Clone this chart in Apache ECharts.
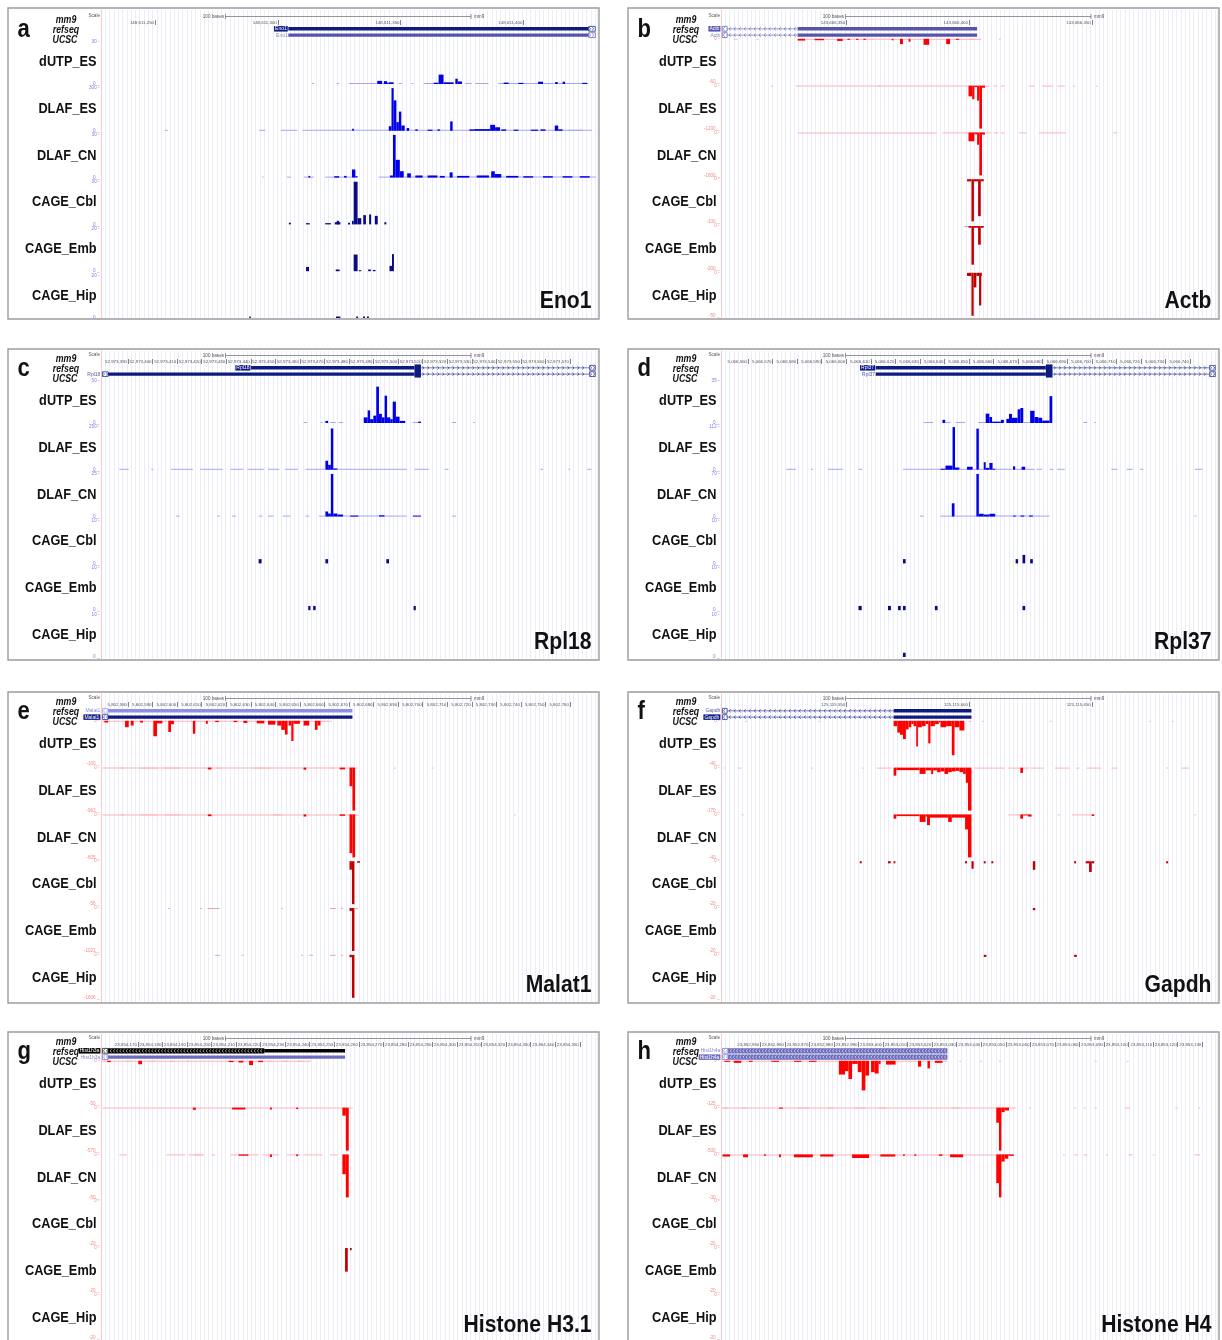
<!DOCTYPE html>
<html>
<head>
<meta charset="utf-8">
<title>Strand-specific read coverage at eight mouse loci</title>
<script src="https://cdn.jsdelivr.net/npm/echarts@6.0.0/dist/echarts.min.js"></script>
<style>
  html, body { margin: 0; padding: 0; background: #fff; }
  #chart { width: 1222px; height: 1340px; }
</style>
</head>
<body>
<div id="chart"></div>
<script>
// ---------------------------------------------------------------------------
// Shared labels
// ---------------------------------------------------------------------------
const trackNames = ['dUTP_ES', 'DLAF_ES', 'DLAF_CN', 'CAGE_Cbl', 'CAGE_Emb', 'CAGE_Hip'];
const panelLetters = ['a', 'b', 'c', 'd', 'e', 'f', 'g', 'h'];
const geneTitles = ['Eno1', 'Actb', 'Rpl18', 'Rpl37', 'Malat1', 'Gapdh', 'Histone H3.1', 'Histone H4'];
const strands = ['+', '-', '+', '+', '-', '-', '-', '-'];
const chromNames = ['chr4:', 'chr5:', 'chr7:', 'chr15:', 'chr19:', 'chr6:', 'chr13:', 'chr13:'];
// genomic position of the first base shown in each window
const windowStarts = [148611228, 143666299, 52973379, 5066549, 5802569, 125115499, 23854155, 23852934];
const windowBases = 202;
const scaleSpan = [50.7, 150.7];          // 100-base scale bar (window offsets)
const scaleText = '100 bases';
const assembly = 'mm9';

// chromosome coordinate ticks
const eno1Ticks = [148611250, 148611300, 148611350, 148611400];
const actbTicks = [143666350, 143666400, 143666450];
const rpl18Ticks = [52973390, 52973400, 52973410, 52973420, 52973430, 52973440, 52973450, 52973460, 52973470, 52973480,
  52973490, 52973500, 52973510, 52973520, 52973530, 52973540, 52973550, 52973560, 52973570];
const rpl37Ticks = [5066560, 5066570, 5066580, 5066590, 5066600, 5066610, 5066620, 5066630, 5066640, 5066650,
  5066660, 5066670, 5066680, 5066690, 5066700, 5066710, 5066720, 5066730, 5066740];
const malat1Ticks = [5802580, 5802590, 5802600, 5802610, 5802620, 5802630, 5802640, 5802650, 5802660, 5802670,
  5802680, 5802690, 5802700, 5802710, 5802720, 5802730, 5802740, 5802750, 5802760];
const gapdhTicks = [125115550, 125115600, 125115650];
const h31Ticks = [23854170, 23854180, 23854190, 23854200, 23854210, 23854220, 23854230, 23854240, 23854250, 23854260,
  23854270, 23854280, 23854290, 23854300, 23854310, 23854320, 23854330, 23854340, 23854350];
const h4Ticks = [23852950, 23852960, 23852970, 23852980, 23852990, 23853000, 23853010, 23853020, 23853030, 23853040,
  23853050, 23853060, 23853070, 23853080, 23853090, 23853100, 23853110, 23853120, 23853130];

// track view limits (absolute value of the scale)
const eno1Max = [30, 300, 30, 30, 20, 20];
const actbMax = [60, 1200, 1600, 100, 200, 50];
const rpl18Max = [50, 250, 25, 10, 10, 10];
const rpl37Max = [35, 112, 70, 10, 10, 10];
const malat1Max = [100, 963, 605, 56, 1021, 1606];
const gapdhMax = [40, 170, 40, 20, 20, 20];
const h31Max = [50, 570, 50, 20, 20, 20];
const h4Max = [125, 500, 30, 20, 20, 20];

// gene models: [start, end, part]  (window offsets in bases)
const eno1Refseq = [[76.3, 198.6, 'exon'], [198.6, 201.3, 'edge']];
const eno1Ucsc = [[76.3, 198.6, 'exon'], [198.6, 201.3, 'edge']];
const actbRefseq = [[0.5, 2.5, 'edge'], [2.5, 31.2, 'intron'], [31.2, 104.3, 'exon']];
const actbUcsc = [[0.5, 2.5, 'edge'], [2.5, 31.2, 'intron'], [31.2, 104.3, 'exon']];
const rpl18Refseq = [[61.1, 127.7, 'exon'], [127.7, 130.3, 'cds'], [130.3, 199.0, 'intron'], [199.0, 201.3, 'edge']];
const rpl18Ucsc = [[0.6, 2.9, 'edge'], [2.9, 127.7, 'exon'], [127.7, 130.3, 'cds'], [130.3, 199.0, 'intron'], [199.0, 201.3, 'edge']];
const rpl37Refseq = [[63.0, 132.3, 'exon'], [132.3, 135.0, 'cds'], [135.0, 199.0, 'intron'], [199.0, 201.3, 'edge']];
const rpl37Ucsc = [[63.0, 132.3, 'exon'], [132.3, 135.0, 'cds'], [135.0, 199.0, 'intron'], [199.0, 201.3, 'edge']];
const malat1Refseq = [[0.6, 2.9, 'edge'], [2.9, 102.4, 'exon']];
const malat1Ucsc = [[0.6, 2.9, 'edge'], [2.9, 102.4, 'exon']];
const gapdhRefseq = [[0.6, 2.5, 'edge'], [2.5, 70.3, 'intron'], [70.3, 102.0, 'exon']];
const gapdhUcsc = [[0.6, 2.5, 'edge'], [2.5, 70.3, 'intron'], [70.3, 102.0, 'exon']];
const h31Refseq = [[0.6, 2.9, 'edge'], [2.9, 66.5, 'chev'], [66.5, 99.4, 'exon']];
const h31Ucsc = [[0.6, 2.9, 'edge'], [2.9, 99.4, 'exon']];
const h4Refseq = [[0.6, 2.9, 'edge'], [2.9, 92.2, 'chev']];
const h4Ucsc = [[0.6, 2.9, 'edge'], [2.9, 92.2, 'chev']];

// gene-row names and the window offset where each name ends
const eno1GeneNames = ['Eno1', 'Eno1'];      const eno1NameAt = [76.3, 76.3];
const actbGeneNames = ['Actb', 'Actb'];      const actbNameAt = [0, 0];
const rpl18GeneNames = ['Rpl18', 'Rpl18'];   const rpl18NameAt = [61.1, 0];
const rpl37GeneNames = ['Rpl37', 'Rpl37'];   const rpl37NameAt = [63.0, 63.0];
const malat1GeneNames = ['Malat1', 'Malat1']; const malat1NameAt = [0, 0];
const gapdhGeneNames = ['Gapdh', 'Gapdh'];   const gapdhNameAt = [0, 0];
const h31GeneNames = ['Hist1h3a', 'Hist1h3a']; const h31NameAt = [0, 0];
const h4GeneNames = ['Hist1h4a', 'Hist1h4a']; const h4NameAt = [0, 0];

// ---------------------------------------------------------------------------
// Coverage runs: [start, end, value]   (window offsets in bases, track units)
// ---------------------------------------------------------------------------
// a  Eno1
const eno1_dUTP_ES = [[86.0,86.8,0.3],[96.0,97.0,0.3],[101.0,112.5,0.3],[112.5,114.5,2.2],[114.5,115.2,0.3],[115.2,116.5,2.0],
  [116.5,117.2,0.8],[117.2,119.2,1.2],[121.3,122.6,0.3],[126.5,127.2,0.3],[131.4,137.5,0.3],[135.5,137.5,0.9],[137.5,139.5,6.6],
  [139.5,143.6,1.2],[144.3,145.3,3.7],[145.3,147.0,1.8],[148.3,151.0,0.3],[152.4,157.8,0.3],[161.8,198.3,0.3],[164.0,166.0,1.0],
  [170.0,172.0,0.8],[178.0,180.0,1.6],[185.0,186.0,1.4],[188.0,189.0,1.6],[196.0,198.0,0.8]];
const eno1_DLAF_ES = [[26.0,27.2,3],[64.4,67.0,3],[73.2,80.0,3],[82.0,86.0,3],[86.0,117.2,3],[102.3,103.0,15],[117.2,118.3,32],
  [118.3,119.2,300],[119.2,120.3,214],[120.3,121.3,61],[121.3,122.3,135],[122.3,123.7,37],[123.7,200.0,3],[124.5,125.5,20],
  [128.0,129.0,10],[133.0,135.0,8],[137.0,138.0,10],[142.2,143.2,66],[150.0,152.0,10],[152.0,158.5,12],[158.5,160.5,42],
  [160.5,162.5,25],[163.0,165.0,10],[168.0,170.0,8],[175.0,178.0,8],[179.0,181.0,10],[184.8,186.2,37],[186.2,188.0,10],[190.0,196.0,5]];
const eno1_DLAF_CN = [[65.6,66.2,0.3],[75.7,77.3,0.3],[82.7,86.6,0.3],[84.5,85.2,1.2],[91.3,102.2,0.3],[95.0,97.0,1.0],[99.0,100.0,1.2],
  [102.2,103.6,5.7],[103.6,104.5,1.0],[113.0,117.7,0.3],[117.7,118.9,1.5],[118.9,120.0,30],[120.0,121.7,12.5],[121.7,123.3,4.5],
  [123.3,201.6,0.3],[124.7,126.2,3.0],[128.0,131.0,1.5],[133.0,137.0,1.5],[138.0,140.0,1.2],[142.0,143.2,3.7],[145.0,150.0,1.2],
  [153.0,158.0,1.5],[158.9,160.4,4.4],[160.4,163.0,2.5],[165.0,170.0,1.2],[172.0,176.0,1.0],[180.0,184.0,1.0],[188.0,192.0,1.0],[195.0,199.0,1.0]];
const eno1_CAGE_Cbl = [[76.5,77.3,1.2],[83.5,85.0,0.9],[91.3,93.6,0.9],[95.2,97.5,1.5],[96.0,97.0,2.5],[100.6,101.4,1.2],[102.2,102.9,2.5],
  [102.9,104.5,30],[104.5,106.0,4.4],[106.8,107.9,6.5],[109.2,110.0,7.0],[111.5,112.7,6.0],[115.4,116.2,1.5]];
const eno1_CAGE_Emb = [[83.5,84.7,2.0],[95.6,97.2,0.8],[102.9,104.5,7.8],[105.0,106.0,0.5],[108.8,109.9,0.8],[110.7,111.8,0.6],
  [117.5,118.5,2.5],[118.5,119.3,8.0]];
const eno1_CAGE_Hip = [[60.4,61.0,0.7],[95.7,97.5,0.7],[103.9,104.7,0.7],[106.7,107.5,0.7],[108.3,109.1,0.7]];

// b  Actb (minus strand)
const actb_dUTP_ES = [[5.2,6.7,-0.6],[14.4,15.2,-0.6],[31.2,34.3,-2.5],[34.3,38.1,-0.6],[38.1,42.0,-2],[42.0,47.3,-0.6],[47.3,49.6,-3],
  [49.6,69.5,-0.6],[51.5,52.5,-1.5],[55.0,56.0,-1.5],[58.0,59.0,-1.5],[61.0,62.0,-1.2],[69.5,70.3,-2],[70.3,72.9,-0.6],[72.9,74.1,-7.4],
  [74.1,76.4,-0.6],[76.4,77.2,-4],[77.2,82.5,-0.6],[82.5,84.8,-8.4],[84.8,91.7,-1],[91.7,93.3,-7.4],[93.3,95.6,-0.6],[95.6,97.1,-1.5],
  [97.1,106.0,-0.6],[101.0,103.0,-1.2],[113.2,113.9,-0.6]];
const actb_DLAF_ES = [[20.3,21.1,-10],[30.5,100.8,-10],[64.0,65.0,-25],[100.8,102.3,-300],[102.3,103.2,-380],[103.2,104.3,-40],
  [104.3,105.2,-420],[105.2,106.3,-1200],[106.3,107.5,-60],[107.5,109.3,-10],[111.0,112.5,-10],[114.0,115.5,-10],[125.4,127.7,-10],
  [130.8,135.4,-10],[137.0,140.0,-10],[143.5,144.2,-10],[152.7,153.4,-10]];
const actb_DLAF_CN = [[31.2,87.9,-13],[90.2,100.8,-13],[100.8,103.2,-330],[103.2,104.3,-70],[104.3,105.2,-460],[105.2,106.3,-1600],
  [106.3,107.5,-80],[108.0,110.0,-13],[111.0,113.0,-13],[114.0,115.5,-13],[121.5,124.5,-13],[129.5,140.5,-13],[159.8,161.4,-13]];
const actb_CAGE_Cbl = [[100.2,102.0,-5],[102.0,103.0,-98],[103.0,104.7,-5],[104.7,105.8,-86],[105.8,107.0,-5]];
const actb_CAGE_Emb = [[99.0,100.8,-2],[100.8,102.0,-8],[102.0,103.0,-180],[103.0,104.7,-8],[104.7,105.8,-87],[105.8,107.0,-8]];
const actb_CAGE_Hip = [[100.2,102.0,-3.7],[102.0,102.9,-50],[102.9,104.0,-17],[104.0,105.1,-3.7],[105.1,106.0,-38],[106.0,106.3,-3.7]];

// c  Rpl18
const rpl18_dUTP_ES = [[82.5,84.0,0.5],[89.4,90.2,0.5],[91.4,92.5,2.5],[93.3,95.6,0.5],[96.8,98.6,0.5],[107.0,108.6,6.6],[108.6,109.6,14.8],
  [109.6,110.9,4.5],[110.9,112.1,8.6],[112.1,113.2,42.6],[113.2,114.4,10.7],[114.4,115.5,6.6],[115.5,116.5,32],[116.5,117.8,6.6],
  [117.8,118.8,4.5],[118.8,120.1,25],[120.1,121.6,7.4],[121.6,123.9,2.5],[127.0,129.2,0.5],[129.2,130.3,1.6],[143.0,144.6,0.5],[151.5,152.2,0.5]];
const rpl18_DLAF_ES = [[7.5,11.3,2],[20.5,21.3,2],[28.5,37.4,2],[40.4,49.6,2],[52.7,58.0,2],[59.6,66.5,2],[68.0,72.6,2],[74.9,80.2,2],
  [83.3,91.4,2],[91.4,92.5,53],[92.5,93.6,29],[93.6,94.6,242],[94.6,96.3,8],[96.3,100.2,4],[100.2,110.9,2],[110.9,114.0,4],[114.0,124.5,3],
  [127.7,129.2,4],[129.2,133.5,2],[140.0,141.5,2],[179.0,180.0,2],[190.3,191.0,2],[198.0,199.7,2]];
const rpl18_DLAF_CN = [[30.5,32.0,0.2],[47.3,48.4,0.2],[53.4,55.0,0.2],[64.2,65.7,0.2],[68.0,70.3,0.2],[74.0,77.2,0.2],[83.3,84.8,0.2],
  [88.7,91.4,0.2],[91.4,92.5,3],[92.5,93.6,1.8],[93.6,94.6,25],[94.6,96.3,1.8],[96.3,98.6,1.2],[98.6,113.2,0.3],[101.5,104.8,0.6],
  [113.2,115.5,0.8],[115.5,124.5,0.5],[127.0,130.3,0.6],[143.0,144.6,0.2]];
const rpl18_CAGE_Cbl = [[64.2,65.4,1],[91.4,92.5,1],[116.2,117.3,1]];
const rpl18_CAGE_Emb = [[84.4,85.3,1],[86.4,87.4,1],[127.3,128.2,1]];
const rpl18_CAGE_Hip = [];

// d  Rpl37
const rpl37_dUTP_ES = [[82.5,86.4,0.3],[90.2,91.3,2.6],[91.3,93.5,0.3],[95.6,99.4,0.3],[104.7,107.8,0.8],[107.8,109.3,7.7],[109.3,110.4,4.9],
  [110.4,114.0,1.1],[114.0,115.2,2.6],[116.2,117.3,3.4],[117.3,118.5,7.5],[118.5,120.8,4.3],[120.8,121.9,11.2],[121.9,123.1,12.3],
  [123.1,125.9,0.8],[125.9,127.7,10.0],[127.7,129.2,4.9],[129.2,130.8,4.3],[130.8,133.8,2],[133.8,134.9,22],[147.6,149.2,0.3],[152.0,152.6,0.3]];
const rpl37_DLAF_ES = [[26.6,30.5,1],[36.6,37.4,1],[43.5,49.6,1],[56.0,57.5,1],[74.1,89.4,1],[89.4,91.4,3],[91.4,94.3,11],[94.3,95.3,112],
  [95.3,97.1,6],[97.1,100.2,1.5],[100.2,102.5,8],[102.5,104.0,2.5],[104.0,105.0,108],[105.0,107.0,2],[107.0,107.8,20],[107.8,109.3,5],
  [109.3,110.6,18],[110.6,111.7,3],[111.7,118.5,1.5],[118.9,119.8,9],[119.8,122.4,1.5],[122.4,123.9,8],[123.9,127.7,2.5],[128.5,130.8,1],
  [133.8,135.4,2],[136.9,140.0,1],[159.0,161.4,1],[165.2,167.6,1],[170.6,172.0,1],[193.0,196.0,1]];
const rpl37_DLAF_CN = [[81.0,82.5,0.7],[89.4,94.0,0.7],[94.0,95.1,21.8],[95.1,104.0,0.7],[104.0,105.0,70],[105.0,107.0,4.6],[107.0,109.3,3.4],
  [109.3,111.7,4.6],[111.7,127.7,0.7],[119.0,120.0,1.7],[122.0,123.5,1.7],[125.5,127.0,1.7],[127.7,133.8,0.7],[192.8,193.6,0.7]];
const rpl37_CAGE_Cbl = [[74.1,75.2,1],[120.0,121.0,1],[122.8,123.9,2],[125.9,127.0,1]];
const rpl37_CAGE_Emb = [[56.0,57.3,1],[68.0,69.2,1],[72.1,73.2,1],[74.1,75.2,1],[87.1,88.2,1],[122.8,123.9,1]];
const rpl37_CAGE_Hip = [[74.1,75.2,1]];

// e  Malat1 (minus-strand reads)
const malat1_dUTP_ES = [[0.6,94.0,-0.5],[1.4,2.9,-4],[9.8,11.3,-15],[12.1,13.3,-11],[15.9,17.1,-4],[21.3,22.8,-36],[22.8,25.0,-6],
  [27.4,28.5,-26],[28.5,29.7,-8],[37.4,38.4,-30],[42.7,43.5,-7],[46.5,48.0,-3],[54.0,55.5,-3],[58.0,59.6,-5],[63.4,66.5,-6],[68.0,71.0,-9],
  [71.8,73.4,-11],[73.4,74.9,-21],[74.9,76.0,-32],[76.4,77.5,-11],[77.5,78.4,-47],[78.4,81.0,-7],[82.5,84.8,-11],[87.1,88.2,-21],[88.2,89.4,-11]];
const malat1_DLAF_ES = [[0.6,103.5,-5],[8.0,9.5,-15],[16.0,23.0,-12],[26.0,32.0,-12],[43.5,45.0,-40],[47.0,49.0,-12],[62.0,69.0,-12],
  [82.5,83.6,-47],[93.5,95.0,-12],[97.2,99.4,-40],[101.2,102.4,-418],[102.4,103.5,-963],[103.5,104.5,-5],[119.3,120.0,-5],[134.6,135.4,-5]];
const malat1_DLAF_CN = [[0.6,105.0,-3],[8.0,9.5,-8],[16.0,23.0,-8],[26.0,32.0,-8],[43.5,45.0,-25],[70.0,74.0,-8],[82.5,83.6,-30],
  [97.2,99.4,-20],[101.2,102.4,-545],[102.4,103.5,-605],[168.3,169.0,-3]];
const malat1_CAGE_Cbl = [[101.2,102.2,-11],[102.2,103.2,-56],[104.3,105.5,-2]];
const malat1_CAGE_Emb = [[27.4,28.1,-8],[40.4,41.2,-8],[43.5,48.2,-8],[73.4,74.1,-8],[93.3,95.6,-8],[97.8,98.6,-8],[101.2,102.2,-70],
  [102.2,103.2,-1021],[103.2,104.6,-8]];
const malat1_CAGE_Hip = [[46.5,48.6,-12],[57.3,58.0,-12],[81.5,82.2,-12],[84.8,86.4,-12],[93.3,95.6,-12],[97.8,98.6,-12],
  [101.2,102.2,-90],[102.2,103.2,-1606]];

// f  Gapdh
const gapdh_dUTP_ES = [[9.8,10.6,-0.4],[39.7,40.4,-0.4],[70.3,71.8,-5],[71.8,72.9,-11],[72.9,74.1,-13],[74.1,75.3,-17],[75.3,76.4,-8],
  [76.4,77.5,-6],[77.5,78.4,-3],[78.4,79.5,-5],[79.5,80.2,-24],[80.2,81.8,-6],[81.8,83.3,-5],[83.3,84.4,-3],[84.4,85.3,-21],[85.3,87.1,-5],
  [87.1,88.7,-3],[88.7,89.4,-1.5],[89.4,91.7,-6],[91.7,94.0,-5],[94.0,95.1,-32],[95.1,97.1,-6],[97.1,99.1,-9],[100.8,101.9,-0.4],
  [106.3,107.0,-0.4],[133.9,134.6,-0.4],[174.5,175.2,-0.4],[183.6,184.3,-0.4]];
const gapdh_DLAF_ES = [[1.4,2.0,-1],[6.7,8.3,-1],[36.6,37.4,-1],[57.3,58.0,-1],[63.4,69.5,-1],[70.3,71.4,-32],[71.4,80.9,-10],[80.9,83.3,-25],
  [83.3,85.6,-11],[85.6,86.4,-26],[86.4,88.0,-11],[88.0,89.4,-18],[89.4,91.0,-15],[91.0,92.5,-25],[92.5,94.0,-18],[94.0,95.6,-15],
  [95.6,97.1,-13],[97.1,98.6,-18],[98.6,99.7,-25],[99.7,100.6,-60],[100.6,102.0,-170],[103.0,115.5,-1],[117.0,121.9,-2],[121.9,123.0,-21],
  [123.0,125.5,-3],[126.2,131.5,-1],[136.0,142.0,-1],[144.5,146.0,-1],[149.0,155.0,-1],[159.0,161.4,-1],[181.3,182.0,-1],[187.5,190.5,-1]];
const gapdh_DLAF_CN = [[8.3,9.2,-0.3],[70.3,71.4,-4],[71.4,80.9,-1.6],[80.9,83.3,-7],[83.3,83.9,-2],[83.9,85.1,-10],[85.1,92.5,-3],
  [92.5,94.0,-7],[94.0,99.4,-3],[99.4,100.6,-14],[100.6,102.0,-40],[117.0,121.9,-0.3],[121.9,123.0,-4],[123.0,125.0,-1],[125.0,126.5,-2],
  [137.0,138.0,-0.3],[143.0,152.0,-0.3],[151.0,152.0,-1.5],[192.8,193.6,-0.3]];
const gapdh_CAGE_Cbl = [[56.5,57.3,-1],[68.0,69.1,-1],[70.3,71.0,-1],[99.4,100.2,-1],[102.0,102.9,-3.5],[107.0,107.8,-1],[110.1,110.9,-1],
  [127.0,128.0,-4],[143.8,144.6,-1],[148.5,149.9,-1],[149.9,151.0,-5],[151.0,152.0,-1],[181.3,182.1,-1]];
const gapdh_CAGE_Emb = [[127.0,128.0,-1]];
const gapdh_CAGE_Hip = [[107.0,108.1,-1],[143.8,144.9,-1]];

// g  Histone H3.1
const h31_dUTP_ES = [[0.6,85.5,-0.5],[2.5,4.0,-1.5],[10.0,12.0,-1],[15.2,16.7,-4],[20.0,22.0,-1],[28.0,30.0,-1],[35.0,36.0,-1],
  [52.0,54.0,-1.5],[56.0,58.0,-2],[60.3,61.9,-5],[64.0,66.0,-1.5],[68.0,70.0,-1],[74.0,76.0,-1],[80.0,82.0,-1]];
const h31_DLAF_ES = [[0.6,100.0,-5],[37.4,38.6,-30],[53.4,58.8,-25],[68.8,69.6,-25],[79.5,80.3,-20],[98.3,99.7,-107],[99.7,100.9,-570],[100.9,102.5,-5]];
const h31_DLAF_CN = [[7.5,10.6,-0.4],[26.6,34.3,-0.4],[35.8,41.9,-0.4],[45.0,46.5,-0.4],[52.7,64.2,-0.4],[65.7,72.6,-0.4],[75.6,81.0,-0.4],
  [82.5,90.2,-0.4],[93.3,96.3,-0.4],[38.0,41.0,-1],[56.0,60.0,-1.5],[68.8,69.6,-3],[79.5,80.3,-2],[98.3,99.7,-23],[99.7,100.9,-50]];
const h31_CAGE_Cbl = [];
const h31_CAGE_Emb = [[99.4,100.5,-11],[101.4,102.1,-1]];
const h31_CAGE_Hip = [];

// h  Histone H4
const h4_dUTP_ES = [[0.6,92.2,-1],[1.4,3.7,-3],[5.2,8.3,-6],[11.3,12.9,-3],[20.5,23.6,-3],[29.7,32.8,-3],[35.8,38.9,-3],[48.0,50.5,-40],
  [50.5,51.9,-30],[51.9,53.4,-53],[53.4,55.7,-9],[55.7,57.3,-33],[57.3,58.8,-86],[58.8,60.3,-43],[61.1,62.6,-33],[62.6,64.2,-37],
  [64.2,65.0,-9],[67.2,71.1,-11],[80.2,81.5,-17],[84.1,85.1,-22],[87.1,90.2,-6],[97.1,97.8,-1],[105.5,106.3,-1],[113.2,114.0,-1],
  [152.2,153.0,-1],[165.2,166.0,-1]];
const h4_DLAF_ES = [[0.6,120.3,-4],[0.6,2.9,-8],[8.3,10.6,-10],[23.6,25.2,-12],[31.3,35.8,-10],[43.5,45.8,-6],[54.2,58.8,-8],[64.2,67.2,-6],
  [94.0,97.1,-10],[112.1,113.2,-176],[113.2,114.2,-500],[114.2,115.5,-53],[115.5,117.3,-33],[125.4,126.2,-4],[143.8,144.6,-4],
  [147.6,148.4,-4],[152.2,153.0,-4],[164.4,166.7,-4],[185.1,186.0,-4],[194.4,195.2,-4]];
const h4_DLAF_CN = [[0.6,118.5,-0.3],[0.6,3.7,-1.5],[9.0,11.0,-2],[17.5,18.3,-1],[23.6,24.4,-2],[29.7,37.4,-2],[40.4,45.8,-1.5],
  [53.4,60.3,-2.5],[64.9,71.0,-1.5],[74.1,74.9,-1],[78.7,79.5,-1],[88.7,90.2,-1],[93.3,98.6,-2],[112.1,113.2,-20],[113.2,114.2,-30],
  [114.2,115.5,-5],[115.5,117.0,-3],[117.0,119.3,-1],[139.3,140.0,-0.3],[143.8,145.3,-0.3],[147.6,149.2,-0.3],[156.8,157.5,-0.3],
  [166.0,167.6,-0.3],[175.8,176.6,-0.3],[192.8,195.2,-0.3]];
const h4_CAGE_Cbl = [];
const h4_CAGE_Emb = [];
const h4_CAGE_Hip = [];

// ---------------------------------------------------------------------------
// Panel assembly
// ---------------------------------------------------------------------------
const panelData = [
  { ticks: eno1Ticks, max: eno1Max, genes: [eno1Refseq, eno1Ucsc], names: eno1GeneNames, nameAt: eno1NameAt,
    tracks: [eno1_dUTP_ES, eno1_DLAF_ES, eno1_DLAF_CN, eno1_CAGE_Cbl, eno1_CAGE_Emb, eno1_CAGE_Hip] },
  { ticks: actbTicks, max: actbMax, genes: [actbRefseq, actbUcsc], names: actbGeneNames, nameAt: actbNameAt,
    tracks: [actb_dUTP_ES, actb_DLAF_ES, actb_DLAF_CN, actb_CAGE_Cbl, actb_CAGE_Emb, actb_CAGE_Hip] },
  { ticks: rpl18Ticks, max: rpl18Max, genes: [rpl18Refseq, rpl18Ucsc], names: rpl18GeneNames, nameAt: rpl18NameAt,
    tracks: [rpl18_dUTP_ES, rpl18_DLAF_ES, rpl18_DLAF_CN, rpl18_CAGE_Cbl, rpl18_CAGE_Emb, rpl18_CAGE_Hip] },
  { ticks: rpl37Ticks, max: rpl37Max, genes: [rpl37Refseq, rpl37Ucsc], names: rpl37GeneNames, nameAt: rpl37NameAt,
    tracks: [rpl37_dUTP_ES, rpl37_DLAF_ES, rpl37_DLAF_CN, rpl37_CAGE_Cbl, rpl37_CAGE_Emb, rpl37_CAGE_Hip] },
  { ticks: malat1Ticks, max: malat1Max, genes: [malat1Refseq, malat1Ucsc], names: malat1GeneNames, nameAt: malat1NameAt,
    tracks: [malat1_dUTP_ES, malat1_DLAF_ES, malat1_DLAF_CN, malat1_CAGE_Cbl, malat1_CAGE_Emb, malat1_CAGE_Hip] },
  { ticks: gapdhTicks, max: gapdhMax, genes: [gapdhRefseq, gapdhUcsc], names: gapdhGeneNames, nameAt: gapdhNameAt,
    tracks: [gapdh_dUTP_ES, gapdh_DLAF_ES, gapdh_DLAF_CN, gapdh_CAGE_Cbl, gapdh_CAGE_Emb, gapdh_CAGE_Hip] },
  { ticks: h31Ticks, max: h31Max, genes: [h31Refseq, h31Ucsc], names: h31GeneNames, nameAt: h31NameAt,
    tracks: [h31_dUTP_ES, h31_DLAF_ES, h31_DLAF_CN, h31_CAGE_Cbl, h31_CAGE_Emb, h31_CAGE_Hip] },
  { ticks: h4Ticks, max: h4Max, genes: [h4Refseq, h4Ucsc], names: h4GeneNames, nameAt: h4NameAt,
    tracks: [h4_dUTP_ES, h4_DLAF_ES, h4_DLAF_CN, h4_CAGE_Cbl, h4_CAGE_Emb, h4_CAGE_Hip] }
];

// ---------------------------------------------------------------------------
// Layout and styling
// ---------------------------------------------------------------------------
const FONT = '"Liberation Sans", Arial, Helvetica, sans-serif';
const panelOrigins = [[8, 8], [628, 8], [8, 349], [628, 349], [8, 692], [628, 692], [8, 1032], [628, 1032]];
const contentShift = [2, 2, 0, 0, 0, 0, 0, 0];   // top row content sits slightly lower inside its frame
const PANEL_W = 591, PANEL_H = 311;
const DATA_LEFT = 93, DATA_W = 496;
const TRACK_STEP = 46.8;
const GUIDE_STEP = 1.75;

const NAVY = '#0d1a80', MID = '#5454ae', LAV = '#6c6cbe';
const rowStyles = [
  [{ color: NAVY, text: NAVY, boxed: true }, { color: MID, text: '#8a8ac8', boxed: false }],
  [{ color: MID, text: MID, boxed: true }, { color: MID, text: '#8a8ac8', boxed: false }],
  [{ color: NAVY, text: NAVY, boxed: true }, { color: NAVY, text: '#5a5aa8', boxed: false }],
  [{ color: NAVY, text: NAVY, boxed: true }, { color: NAVY, text: '#5a5aa8', boxed: false }],
  [{ color: '#9090e2', text: '#9090d8', boxed: false }, { color: NAVY, text: NAVY, boxed: true }],
  [{ color: NAVY, text: '#5a5aa8', boxed: false }, { color: NAVY, text: NAVY, boxed: true }],
  [{ color: '#000000', text: '#000000', boxed: true }, { color: LAV, text: '#8a8ac8', boxed: false }],
  [{ color: LAV, text: '#8a8ac8', boxed: false }, { color: LAV, text: LAV, boxed: true }]
];
const plusColors = { main: '#0000e6', pale: '#a6a6f2', cage: '#0a0a88', cagePale: '#9c9cd2', label: '#7a7ae6' };
const minusColors = { main: '#ff0000', pale: '#ffb4b4', cage: '#c00000', cagePale: '#e8a4a4', label: '#f08c8c' };
const PART_CODE = { intron: 0, exon: 1, cds: 2, edge: 3, chev: 4 };

const grid = [], xAxis = [], yAxis = [], series = [], graphic = [];

function addGrid(g, xa, ya) {
  grid.push(g);
  const i = grid.length - 1;
  xa.gridIndex = i; ya.gridIndex = i;
  xAxis.push(xa); yAxis.push(ya);
  return i;
}

function barRenderer(fillColor, paleColor) {
  return function (params, api) {
    const s = api.value(0), e = api.value(1), v = api.value(2);
    const a = api.coord([s, 0]), b = api.coord([e, v]);
    let h = b[1] - a[1];
    let fill = fillColor;
    if (Math.abs(h) < 1) { h = v < 0 ? 1 : -1; fill = paleColor; }
    return {
      type: 'rect',
      shape: { x: a[0], y: Math.min(a[1], a[1] + h), width: Math.max(b[0] - a[0], 0.8), height: Math.abs(h) },
      style: { fill: fill }
    };
  };
}

function geneRenderer(styles, strand) {
  const dir = strand === '-' ? -1 : 1;
  return function (params, api) {
    const s = api.value(0), e = api.value(1), r = api.value(2), k = api.value(3);
    const a = api.coord([s, r]), b = api.coord([e, r]);
    const st = styles[r - 2];
    const x0 = a[0], x1 = b[0], y = a[1];
    const kids = [];
    const chevrons = (col, from, to, step, lw) => {
      for (let x = from + 2.5; x < to - 1.5; x += step) {
        kids.push({ type: 'polyline',
          shape: { points: [[x - dir * 1.1, y - 1.6], [x + dir * 0.6, y], [x - dir * 1.1, y + 1.6]] },
          style: { stroke: col, lineWidth: lw, fill: null } });
      }
    };
    if (k === 0) {
      kids.push({ type: 'line', shape: { x1: x0, y1: y, x2: x1, y2: y }, style: { stroke: st.color, lineWidth: 0.7, opacity: 0.8 } });
      chevrons(st.color, x0, x1, 5, 0.6);
    } else if (k === 1) {
      kids.push({ type: 'rect', shape: { x: x0, y: y - 1.7, width: x1 - x0, height: 3.4 }, style: { fill: st.color } });
    } else if (k === 2) {
      kids.push({ type: 'rect', shape: { x: x0, y: y - 3.4, width: x1 - x0, height: 6.8 }, style: { fill: st.color } });
    } else if (k === 3) {
      kids.push({ type: 'rect', shape: { x: x0, y: y - 2.4, width: x1 - x0, height: 4.8 }, style: { fill: '#ffffff', stroke: st.color, lineWidth: 0.7 } });
      chevrons(st.color, x0 - 1, x1 + 1, 3, 0.6);
    } else {
      kids.push({ type: 'rect', shape: { x: x0, y: y - 2.6, width: x1 - x0, height: 5.2 }, style: { fill: st.color } });
      chevrons('#ffffff', x0, x1, 3.2, 0.6);
    }
    return { type: 'group', children: kids };
  };
}

function geneNameRenderer(names, styles) {
  return function (params, api) {
    const x = api.value(0), r = api.value(1);
    const p = api.coord([x, r]);
    const st = styles[r - 2];
    return {
      type: 'text', x: p[0] - 0.6, y: p[1],
      style: {
        text: names[r - 2], fontFamily: FONT, fontSize: 5,
        fill: st.boxed ? '#ffffff' : st.text, align: 'right', verticalAlign: 'middle',
        backgroundColor: st.boxed ? st.color : null, padding: st.boxed ? [0.5, 1, 0, 1] : 0
      }
    };
  };
}

function scaleRenderer(params, api) {
  const a = api.coord([api.value(0), 0]), b = api.coord([api.value(1), 0]);
  const y = Math.round(a[1]) + 0.5;
  const col = '#6a6a6a';
  return {
    type: 'group',
    children: [
      { type: 'line', shape: { x1: a[0], y1: y, x2: b[0], y2: y }, style: { stroke: col, lineWidth: 0.7 } },
      { type: 'line', shape: { x1: a[0], y1: y - 2.5, x2: a[0], y2: y + 2.5 }, style: { stroke: col, lineWidth: 0.7 } },
      { type: 'line', shape: { x1: b[0], y1: y - 2.5, x2: b[0], y2: y + 2.5 }, style: { stroke: col, lineWidth: 0.7 } },
      { type: 'text', x: a[0] - 1.5, y: y, style: { text: scaleText, fontFamily: FONT, fontSize: 4.6, fill: '#555', align: 'right', verticalAlign: 'middle' } },
      { type: 'text', x: b[0] + 3, y: y, style: { text: assembly, fontFamily: FONT, fontSize: 4.6, fill: '#555', align: 'left', verticalAlign: 'middle' } }
    ]
  };
}

function txt(x, y, text, size, opts) {
  const o = opts || {};
  return {
    type: 'text', x: x, y: y, scaleX: o.scaleX || 1, silent: true, z: 50,
    style: {
      text: text, fontFamily: FONT, fontSize: size, fontWeight: o.weight || 'bold', fontStyle: o.italic ? 'italic' : 'normal',
      fill: o.fill || '#111', align: o.align || 'left', textAlign: o.align || 'left',
      verticalAlign: 'middle', textVerticalAlign: 'middle'
    }
  };
}

panelData.forEach(function (p, pi) {
  const ox = panelOrigins[pi][0], fy = panelOrigins[pi][1];
  const oy = fy + contentShift[pi];
  const strand = strands[pi];
  const neg = strand === '-';
  const start = windowStarts[pi];
  const cols = neg ? minusColors : plusColors;
  const styles = rowStyles[pi];

  // base-position guidelines behind everything
  addGrid({ left: ox + DATA_LEFT, top: fy + 2, width: DATA_W, height: PANEL_H - 3 },
    { type: 'value', min: 0, max: windowBases, interval: GUIDE_STEP, axisLine: { show: false }, axisTick: { show: false },
      axisLabel: { show: false }, splitLine: { show: true, lineStyle: { color: '#ececfa', width: 1 } } },
    { type: 'value', min: 0, max: 1, axisLine: { show: true, lineStyle: { color: '#f7caca', width: 1 } }, axisTick: { show: false },
      axisLabel: { show: false }, splitLine: { show: false } });

  // header: scale bar, chromosome coordinates, gene models
  const tickOffsets = p.ticks.map(function (t) { return t - start; });
  const hi = addGrid({ left: ox + DATA_LEFT, top: oy + 3, width: DATA_W, height: 25.3 },
    { type: 'value', min: 0, max: windowBases, position: 'top', offset: -12,
      axisLine: { show: false }, splitLine: { show: false },
      axisTick: { show: true, customValues: tickOffsets, length: 5, lineStyle: { color: '#666', width: 0.8 } },
      axisLabel: { show: true, customValues: tickOffsets, margin: 2.5, fontSize: 4.4, fontFamily: FONT, color: '#555',
        align: 'right', verticalAlign: 'middle', padding: [0, 1, 0, 0],
        formatter: function (v) { return Math.round(v + start).toLocaleString('en-US'); } } },
    { type: 'category', data: ['Scale', chromNames[pi], ' ', '  '], inverse: true,
      axisLine: { show: false }, axisTick: { show: false }, splitLine: { show: false },
      axisLabel: { show: true, fontSize: 4.6, fontFamily: FONT, color: '#555', margin: 1 } });

  series.push({ type: 'custom', xAxisIndex: hi, yAxisIndex: hi, silent: true, clip: false, z: 5,
    data: [[scaleSpan[0], scaleSpan[1], 0]], encode: { x: [0, 1], y: 2 }, renderItem: scaleRenderer });

  const geneParts = [];
  p.genes.forEach(function (rowParts, ri) {
    rowParts.forEach(function (part) { geneParts.push([part[0], part[1], ri + 2, PART_CODE[part[2]]]); });
  });
  series.push({ type: 'custom', xAxisIndex: hi, yAxisIndex: hi, silent: true, clip: false, z: 5,
    data: geneParts, encode: { x: [0, 1], y: 2 }, renderItem: geneRenderer(styles, strand) });
  series.push({ type: 'custom', xAxisIndex: hi, yAxisIndex: hi, silent: true, clip: false, z: 6,
    data: p.nameAt.map(function (x, ri) { return [x, ri + 2]; }), encode: { x: 0, y: 1 },
    renderItem: geneNameRenderer(p.names, styles) });

  // six coverage tracks
  for (let k = 0; k < 6; k++) {
    const m = p.max[k];
    const lo = neg ? -m : 0, hiV = neg ? 0 : m;
    const top = oy + (neg ? 28.8 : 31.3) + TRACK_STEP * k;
    const isCage = k >= 3;
    const ti = addGrid({ left: ox + DATA_LEFT, top: top, width: DATA_W, height: neg ? 43 : 42.7 },
      { type: 'value', min: 0, max: windowBases, show: false },
      { type: 'value', min: lo, max: hiV, axisLine: { show: false }, axisTick: { show: false }, splitLine: { show: false },
        axisLabel: { show: true, customValues: [lo, hiV], margin: 1.5, fontSize: 4.6, fontFamily: FONT, color: cols.label,
          formatter: function (v) { return v === lo ? v + ' _' : v + ' -'; } } });
    series.push({ type: 'custom', xAxisIndex: ti, yAxisIndex: ti, silent: true, clip: false, z: 4,
      data: p.tracks[k], encode: { x: [0, 1], y: 2 },
      renderItem: barRenderer(isCage ? cols.cage : cols.main, isCage ? cols.cagePale : cols.pale) });
    graphic.push(txt(ox + 88.5, oy + 51.8 + TRACK_STEP * k, trackNames[k], 15, { align: 'right', scaleX: 0.85 }));
  }

  // frame, panel letter, track-group captions, locus title
  graphic.push({ type: 'rect', silent: true, z: 60, shape: { x: ox, y: fy, width: PANEL_W, height: PANEL_H },
    style: { fill: 'none', stroke: '#9c9c9c', lineWidth: 1.4 } });
  graphic.push(txt(ox + 9.5, oy + 19.5, panelLetters[pi], 26, { scaleX: 0.85 }));
  graphic.push(txt(ox + 58, oy + 10.2, 'mm9', 10, { italic: true, align: 'center', scaleX: 0.88 }));
  graphic.push(txt(ox + 58, oy + 20.3, 'refseq', 10, { italic: true, align: 'center', scaleX: 0.88 }));
  graphic.push(txt(ox + 57, oy + 30.4, 'UCSC', 10, { italic: true, align: 'center', scaleX: 0.88 }));
  graphic.push(txt(ox + 583.5, fy + 293, geneTitles[pi], 24, { align: 'right', scaleX: 0.88 }));
});

const chart = echarts.init(document.getElementById('chart'), null, { renderer: 'canvas' });
chart.setOption({
  animation: false,
  backgroundColor: '#ffffff',
  grid: grid,
  xAxis: xAxis,
  yAxis: yAxis,
  series: series,
  graphic: graphic
});
</script>
</body>
</html>
